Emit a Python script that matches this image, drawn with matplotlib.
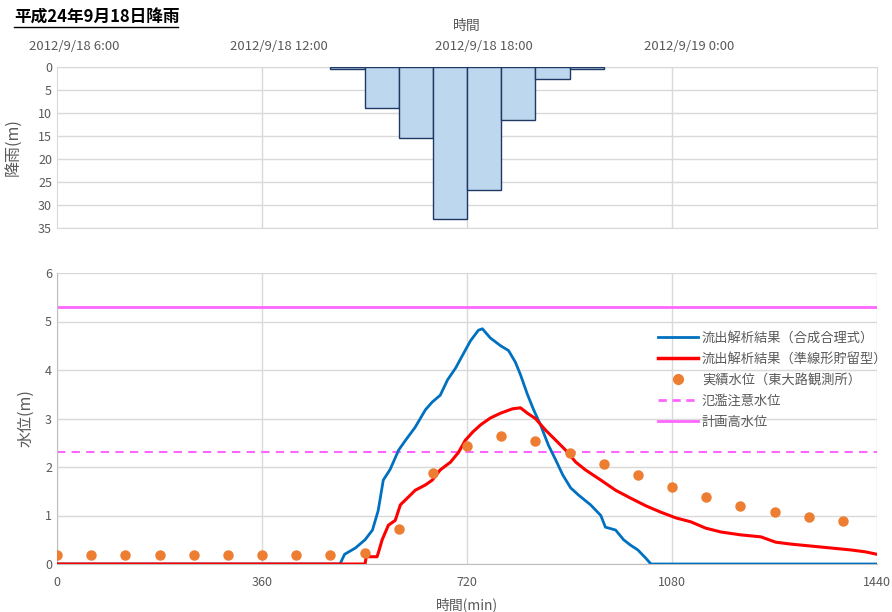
import matplotlib
matplotlib.use("Agg")
import matplotlib.pyplot as plt
from matplotlib.lines import Line2D

plt.rcParams['font.family'] = ['Noto Sans CJK JP', 'DejaVu Sans']

# ---------------- data ----------------
rain_start = [480, 540, 600, 660, 720, 780, 840, 900]
rain_mm = [0.5, 9.0, 15.5, 33.0, 26.7, 11.6, 2.5, 0.5]

top_tick_pos = [30, 390, 750, 1110]
top_tick_labels = ["2012/9/18 6:00", "2012/9/18 12:00", "2012/9/18 18:00", "2012/9/19 0:00"]

blue_t = [0, 497, 505, 524, 541, 554, 564, 573, 585, 600, 612, 629, 647, 659, 673, 686,
          700, 712, 726, 740, 747, 761, 779, 793, 805, 814, 826, 837, 849, 863, 876,
          888, 902, 916, 937, 955, 963, 981, 995, 1007, 1020, 1034, 1043, 1440]
blue_h = [0, 0, 0.2, 0.33, 0.5, 0.7, 1.1, 1.73, 1.95, 2.35, 2.55, 2.82, 3.18, 3.34, 3.48, 3.8,
          4.04, 4.3, 4.6, 4.82, 4.85, 4.66, 4.5, 4.4, 4.16, 3.9, 3.5, 3.18, 2.87, 2.45, 2.14,
          1.84, 1.57, 1.42, 1.22, 1.0, 0.76, 0.7, 0.5, 0.39, 0.29, 0.12, 0, 0]

red_t = [0, 541, 543, 562, 564, 571, 582, 594, 603, 617, 629, 647, 659, 673, 691, 705,
         717, 730, 744, 761, 779, 800, 814, 826, 840, 858, 876, 893, 911, 928, 955,
         981, 1007, 1034, 1060, 1087, 1113, 1139, 1166, 1201, 1236, 1262, 1289, 1324,
         1359, 1394, 1420, 1440]
red_h = [0, 0, 0.15, 0.15, 0.22, 0.5, 0.8, 0.9, 1.22, 1.38, 1.52, 1.63, 1.73, 1.94, 2.1, 2.3,
         2.55, 2.72, 2.87, 3.01, 3.11, 3.2, 3.22, 3.11, 3.0, 2.76, 2.55, 2.35, 2.1, 1.94, 1.73,
         1.52, 1.36, 1.2, 1.07, 0.95, 0.87, 0.74, 0.66, 0.6, 0.56, 0.45, 0.41, 0.37,
         0.33, 0.29, 0.25, 0.2]

obs_t = [0, 60, 120, 180, 240, 300, 360, 420, 480, 540, 600, 660, 720, 780, 840, 900,
         960, 1020, 1080, 1140, 1200, 1260, 1320, 1380]
obs_h = [0.18, 0.18, 0.18, 0.18, 0.18, 0.18, 0.18, 0.18, 0.18, 0.22, 0.72, 1.88, 2.43, 2.64,
         2.54, 2.29, 2.06, 1.83, 1.59, 1.38, 1.2, 1.07, 0.97, 0.89]

caution_level = 2.3
plan_level = 5.3

labels = ["流出解析結果（合成合理式）", "流出解析結果（準線形貯留型）", "実績水位（東大路観測所）",
          "氾濫注意水位", "計画高水位"]

# ---------------- style ----------------
grey_txt = "#595959"
grid_c = "#D9D9D9"
blue = "#0070C0"
red = "#FF0000"
orange = "#ED7D31"
pink = "#FF66FF"

fig = plt.figure(figsize=(8.92, 6.12), dpi=100)

# ---------------- rainfall panel ----------------
ax1 = fig.add_axes([57/892, 1-228/612, 820/892, 161/612])
ax1.bar(rain_start, rain_mm, width=60, align='edge', color="#BDD7EE",
        edgecolor="#1F3864", linewidth=1.0, zorder=3)
ax1.set_xlim(0, 1440)
ax1.set_ylim(35, 0)
ax1.set_yticks(range(0, 36, 5))
ax1.xaxis.tick_top()
ax1.set_xticks(top_tick_pos)
ax1.set_xticklabels(top_tick_labels)
ax1.xaxis.set_label_position('top')
ax1.set_xlabel("時間", color=grey_txt, fontsize=10, labelpad=7)
ax1.set_ylabel("降雨(m)", color=grey_txt, fontsize=11.5, labelpad=12)
ax1.tick_params(axis='both', length=0, colors=grey_txt, labelsize=9)
ax1.tick_params(axis='x', pad=10, labelsize=9.5)
ax1.grid(axis='y', color=grid_c, linewidth=1, zorder=0)
for v in [360, 720, 1080]:
    ax1.axvline(v, color=grid_c, linewidth=1, zorder=0)
for s in ax1.spines.values():
    s.set_color(grid_c)

# ---------------- water level panel ----------------
ax2 = fig.add_axes([57/892, 1-564/612, 820/892, 291/612])
ax2.plot(blue_t, blue_h, color=blue, linewidth=2, zorder=3)
ax2.plot(red_t, red_h, color=red, linewidth=2.2, zorder=4)
ax2.plot(obs_t, obs_h, 'o', color=orange, markersize=6.5, zorder=5)
ax2.axhline(caution_level, color=pink, linewidth=1.5, linestyle=(0, (4, 3)), zorder=2)
ax2.axhline(plan_level, color=pink, linewidth=2, zorder=2)
ax2.set_xlim(0, 1440)
ax2.set_ylim(0, 6)
ax2.set_xticks([0, 360, 720, 1080, 1440])
ax2.set_yticks(range(0, 7))
ax2.tick_params(axis='both', length=0, colors=grey_txt, labelsize=9)
ax2.tick_params(axis='x', pad=9)
ax2.grid(True, color=grid_c, linewidth=1, zorder=0)
ax2.set_axisbelow(True)
for k in ['top', 'right']:
    ax2.spines[k].set_visible(False)
ax2.spines['left'].set_color("#BFBFBF")
ax2.spines['bottom'].set_color("#BFBFBF")
ax2.set_xlabel("時間(min)", color=grey_txt, fontsize=10, labelpad=6)
ax2.set_ylabel("水位(m)", color=grey_txt, fontsize=11.5, labelpad=8)

handles = [
    Line2D([], [], color=blue, linewidth=2),
    Line2D([], [], color=red, linewidth=2.5),
    Line2D([], [], color=orange, marker='o', linestyle='None', markersize=7),
    Line2D([], [], color=pink, linewidth=2, linestyle=(0, (3, 2))),
    Line2D([], [], color=pink, linewidth=2),
]
leg = ax2.legend(handles, labels, loc='upper left', bbox_to_anchor=(0.727, 0.818),
                 frameon=False, fontsize=9.5, handlelength=3.0, handletextpad=0.3,
                 labelspacing=0.62, borderaxespad=0)
for t in leg.get_texts():
    t.set_color(grey_txt)

fig.text(14/892, 1-18/612, "平成24年9月18日降雨", fontsize=12, fontweight='bold',
         color="#000000", va='center', ha='left')
# underline
fig.add_artist(Line2D([14/892, 178/892], [1-27/612, 1-27/612], color="black", linewidth=1))

fig.savefig("out.png", dpi=100)
